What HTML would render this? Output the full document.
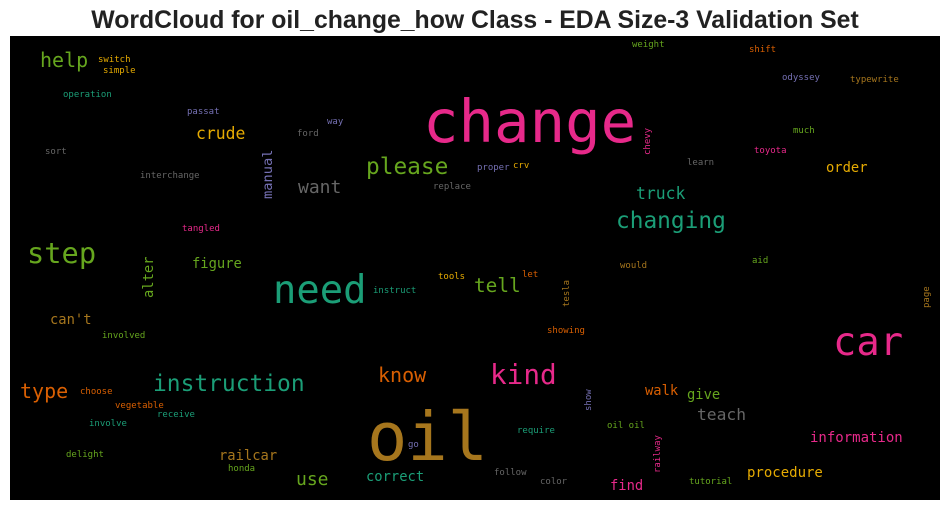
<!DOCTYPE html>
<html><head><meta charset="utf-8"><style>
html,body{margin:0;padding:0;background:#fff;width:950px;height:511px;overflow:hidden}
svg text.w{font-family:"DejaVu Sans Mono","Liberation Mono",monospace}
</style></head><body>
<svg width="950" height="511" viewBox="0 0 950 511">
<text x="475" y="28" text-anchor="middle" font-family="Liberation Sans, Arial, sans-serif" font-weight="bold" font-size="24.8" fill="#222">WordCloud for oil_change_how Class - EDA Size-3 Validation Set</text>
<rect x="10" y="36" width="930" height="464" fill="#000"/>
<g>
<text class="w" x="423" y="142" font-size="59" fill="#e7298a">change</text>
<text class="w" x="367" y="460" font-size="67" fill="#a6761d">oil</text>
<text class="w" x="273" y="303" font-size="38.8" fill="#1b9e77">need</text>
<text class="w" x="833" y="355" font-size="38.8" fill="#e7298a">car</text>
<text class="w" x="27" y="263" font-size="28.7" fill="#66a61e">step</text>
<text class="w" x="490" y="384" font-size="27.7" fill="#e7298a">kind</text>
<text class="w" x="366" y="174" font-size="22.8" fill="#66a61e">please</text>
<text class="w" x="616" y="228" font-size="22.8" fill="#1b9e77">changing</text>
<text class="w" x="153" y="391" font-size="22.9" fill="#1b9e77">instruction</text>
<text class="w" x="40" y="67" font-size="20" fill="#66a61e">help</text>
<text class="w" x="378" y="382" font-size="20" fill="#d95f02">know</text>
<text class="w" x="20" y="398" font-size="20" fill="#d95f02">type</text>
<text class="w" x="474" y="292" font-size="19.4" fill="#66a61e">tell</text>
<text class="w" x="298" y="193" font-size="18" fill="#666666">want</text>
<text class="w" x="296" y="485" font-size="18" fill="#66a61e">use</text>
<text class="w" x="196" y="139" font-size="16.4" fill="#e6ab02">crude</text>
<text class="w" x="636" y="199" font-size="16.4" fill="#1b9e77">truck</text>
<text class="w" x="697" y="420" font-size="16.3" fill="#666666">teach</text>
<text class="w" x="192" y="268" font-size="13.8" fill="#66a61e">figure</text>
<text class="w" x="826" y="172" font-size="13.8" fill="#e6ab02">order</text>
<text class="w" x="50" y="324" font-size="13.8" fill="#a6761d">can't</text>
<text class="w" x="219" y="460" font-size="13.8" fill="#a6761d">railcar</text>
<text class="w" x="366" y="481" font-size="13.8" fill="#1b9e77">correct</text>
<text class="w" x="645" y="395" font-size="13.8" fill="#d95f02">walk</text>
<text class="w" x="687" y="399" font-size="13.8" fill="#66a61e">give</text>
<text class="w" x="810" y="442" font-size="14" fill="#e7298a">information</text>
<text class="w" x="747" y="477" font-size="14" fill="#e6ab02">procedure</text>
<text class="w" x="610" y="490" font-size="13.8" fill="#e7298a">find</text>
<text class="w" transform="translate(272,199) rotate(-90)" font-size="13.7" fill="#7570b3">manual</text>
<text class="w" transform="translate(153,298) rotate(-90)" font-size="13.8" fill="#66a61e">alter</text>
<text class="w" transform="translate(650,155) rotate(-90)" font-size="9" fill="#e7298a">chevy</text>
<text class="w" transform="translate(569,307) rotate(-90)" font-size="9" fill="#a6761d">tesla</text>
<text class="w" transform="translate(929,308) rotate(-90)" font-size="9" fill="#a6761d">page</text>
<text class="w" transform="translate(591,411) rotate(-90)" font-size="9" fill="#7570b3">show</text>
<text class="w" transform="translate(660,473) rotate(-90)" font-size="9" fill="#e7298a">railway</text>
<g font-size="9">
<text class="w" x="98" y="62" fill="#e6ab02">switch</text>
<text class="w" x="103" y="73" fill="#e6ab02">simple</text>
<text class="w" x="63" y="97" fill="#1b9e77">operation</text>
<text class="w" x="187" y="114" fill="#7570b3">passat</text>
<text class="w" x="327" y="124" fill="#7570b3">way</text>
<text class="w" x="297" y="136" fill="#666666">ford</text>
<text class="w" x="45" y="154" fill="#666666">sort</text>
<text class="w" x="140" y="178" fill="#666666">interchange</text>
<text class="w" x="433" y="189" fill="#666666">replace</text>
<text class="w" x="182" y="231" fill="#e7298a">tangled</text>
<text class="w" x="632" y="47" fill="#66a61e">weight</text>
<text class="w" x="749" y="52" fill="#d95f02">shift</text>
<text class="w" x="782" y="80" fill="#7570b3">odyssey</text>
<text class="w" x="850" y="82" fill="#a6761d">typewrite</text>
<text class="w" x="793" y="133" fill="#66a61e">much</text>
<text class="w" x="754" y="153" fill="#e7298a">toyota</text>
<text class="w" x="477" y="170" fill="#7570b3">proper</text>
<text class="w" x="513" y="168" fill="#e6ab02">crv</text>
<text class="w" x="687" y="165" fill="#666666">learn</text>
<text class="w" x="620" y="268" fill="#a6761d">would</text>
<text class="w" x="752" y="263" fill="#66a61e">aid</text>
<text class="w" x="438" y="279" fill="#e6ab02">tools</text>
<text class="w" x="373" y="293" fill="#1b9e77">instruct</text>
<text class="w" x="102" y="338" fill="#66a61e">involved</text>
<text class="w" x="80" y="394" fill="#d95f02">choose</text>
<text class="w" x="115" y="408" fill="#d95f02">vegetable</text>
<text class="w" x="157" y="417" fill="#1b9e77">receive</text>
<text class="w" x="89" y="426" fill="#1b9e77">involve</text>
<text class="w" x="408" y="447" fill="#7570b3">go</text>
<text class="w" x="66" y="457" fill="#66a61e">delight</text>
<text class="w" x="228" y="471" fill="#66a61e">honda</text>
<text class="w" x="522" y="277" fill="#d95f02">let</text>
<text class="w" x="547" y="333" fill="#d95f02">showing</text>
<text class="w" x="517" y="433" fill="#1b9e77">require</text>
<text class="w" x="607" y="428" fill="#66a61e">oil oil</text>
<text class="w" x="494" y="475" fill="#666666">follow</text>
<text class="w" x="540" y="484" fill="#666666">color</text>
<text class="w" x="689" y="484" fill="#66a61e">tutorial</text>
</g>
</g>
</svg>
</body></html>
